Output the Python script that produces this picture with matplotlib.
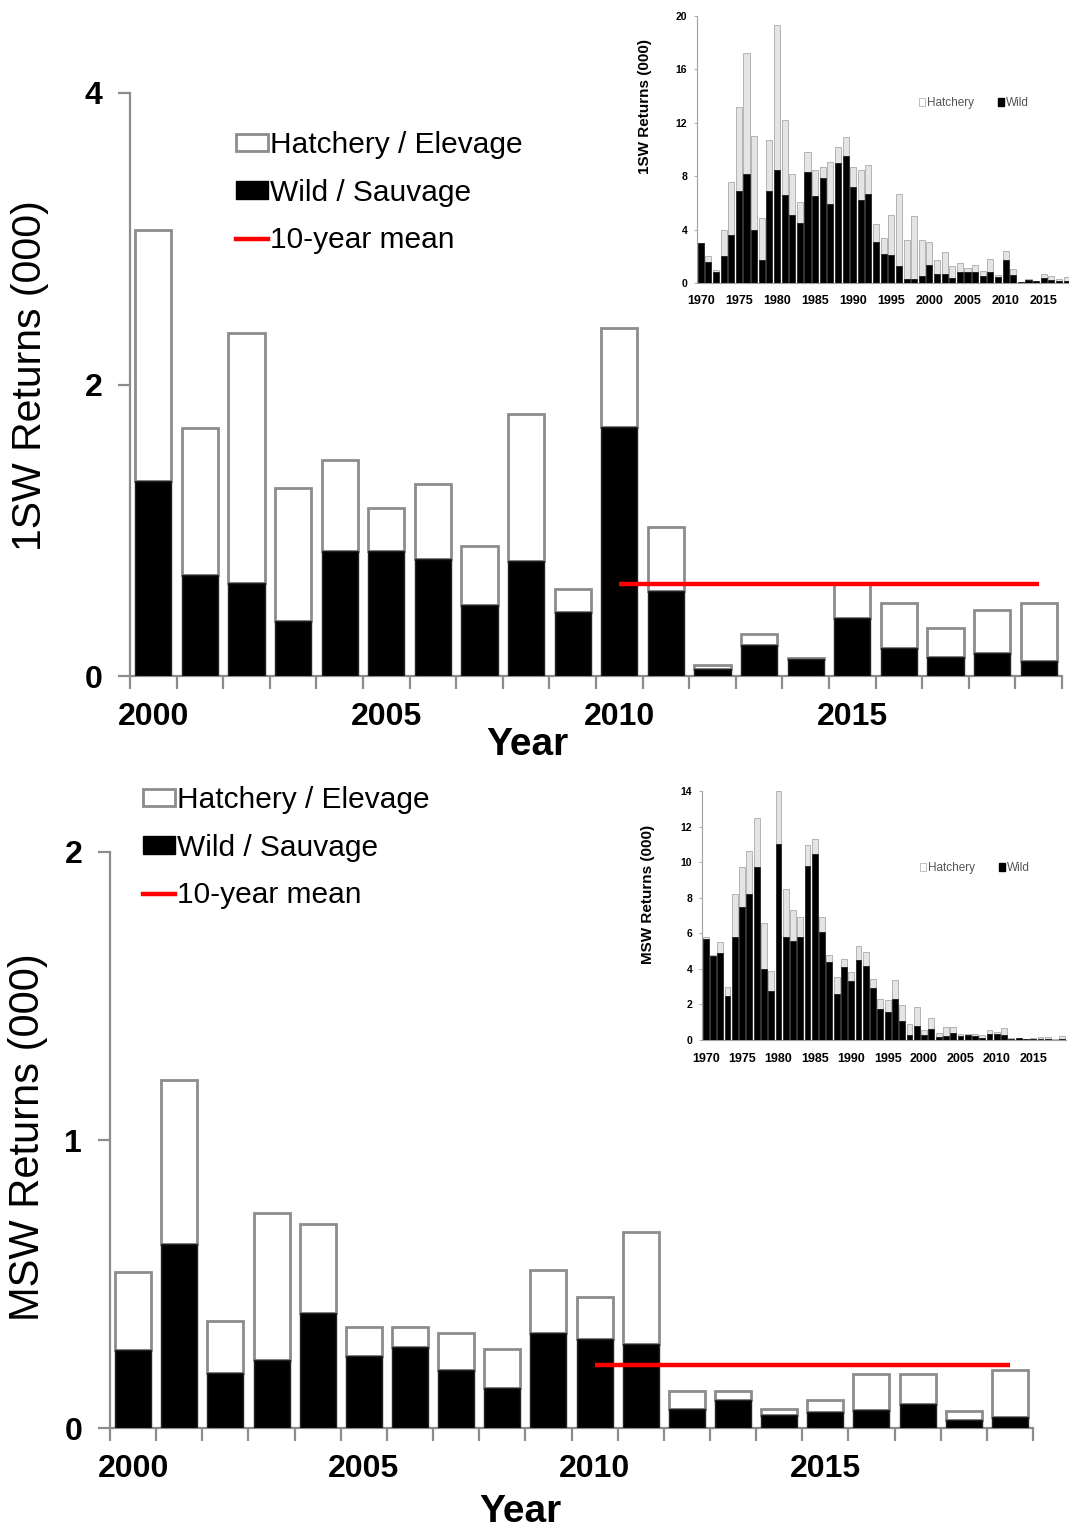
import matplotlib
matplotlib.use("Agg")
import matplotlib.pyplot as plt
from matplotlib.patches import Patch
from matplotlib.lines import Line2D
import numpy as np

plt.rcParams["font.family"] = ["Liberation Sans", "DejaVu Sans"]

# ---- Recent returns (thousands), 2000-2019 ----
years_recent = list(range(2000, 2020))

sw1_wild = [1.34, 0.69, 0.64, 0.38, 0.86, 0.86, 0.80, 0.49, 0.79, 0.44,
            1.71, 0.58, 0.05, 0.21, 0.12, 0.40, 0.19, 0.13, 0.16, 0.10]
sw1_hatchery = [1.72, 1.01, 1.71, 0.91, 0.62, 0.29, 0.52, 0.40, 1.01, 0.16,
                0.68, 0.44, 0.025, 0.08, 0.005, 0.24, 0.31, 0.20, 0.29, 0.40]

msw_wild = [0.27, 0.64, 0.19, 0.235, 0.40, 0.25, 0.28, 0.20, 0.14, 0.33,
            0.31, 0.29, 0.067, 0.096, 0.044, 0.056, 0.064, 0.082, 0.027, 0.038]
msw_hatchery = [0.27, 0.57, 0.18, 0.51, 0.31, 0.10, 0.07, 0.13, 0.135, 0.22,
                0.146, 0.39, 0.063, 0.034, 0.023, 0.04, 0.122, 0.104, 0.032, 0.162]

# ---- Historical returns (thousands), 1970-1999 ----
years_hist = list(range(1970, 2000))

sw1_wild_hist = [3.0, 1.6, 0.85, 2.0, 3.6, 6.9, 8.2, 4.0, 1.75, 6.9,
                 8.5, 6.6, 5.1, 4.5, 8.35, 6.5, 7.85, 5.9, 9.0, 9.5,
                 7.2, 6.2, 6.7, 3.1, 2.2, 2.1, 1.25, 0.3, 0.3, 0.5]
sw1_hatchery_hist = [0.0, 0.4, 0.1, 2.0, 4.0, 6.3, 9.0, 7.0, 3.15, 3.8,
                     10.8, 5.6, 3.1, 1.6, 1.45, 2.0, 0.85, 3.2, 1.2, 1.4,
                     1.5, 2.3, 2.15, 1.3, 1.2, 3.0, 5.45, 2.9, 4.7, 2.7]

msw_wild_hist = [5.7, 4.7, 4.9, 2.5, 5.8, 7.5, 8.2, 9.7, 4.0, 2.75,
                 11.0, 5.8, 5.55, 5.8, 9.8, 10.45, 6.1, 4.4, 2.6, 4.1,
                 3.3, 4.5, 4.15, 2.95, 1.75, 1.6, 2.3, 1.05, 0.3, 0.8]
msw_hatchery_hist = [0.1, 0.1, 0.6, 0.5, 2.4, 2.2, 2.4, 2.8, 2.6, 1.15,
                     3.0, 2.7, 1.75, 1.1, 1.15, 0.85, 0.8, 0.4, 0.95, 0.45,
                     0.5, 0.8, 0.8, 0.5, 0.55, 0.65, 1.05, 0.9, 0.6, 1.05]

year_ticks_main = [2000, 2005, 2010, 2015]
year_ticks_inset = [1970, 1975, 1980, 1985, 1990, 1995, 2000, 2005, 2010, 2015]

legend_labels = ["Hatchery / Elevage", "Wild / Sauvage", "10-year mean"]
inset_legend_labels = ["Hatchery", "Wild"]

W, H = 1069, 1531
fig = plt.figure(figsize=(W / 100, H / 100), dpi=100)

SPINE = "#8c8c8c"


def fx(px):
    return px / W


def fy(py):
    return 1 - py / H


def main_panel(rect, wild, hatch, ymax, yticks, ylabel, ylabel_xy, ylabel_size,
               year_xy, leg_xy):
    ax = fig.add_axes(rect)
    ax.set_facecolor("none")
    wild = np.array(wild)
    hatch = np.array(hatch)
    total = wild + hatch
    x = np.arange(len(years_recent))
    ax.bar(x, hatch, bottom=wild, width=0.78, color="white",
           edgecolor=SPINE, linewidth=2.0, zorder=2)
    ax.bar(x, wild, width=0.78, color="black", edgecolor="#222222",
           linewidth=1.0, zorder=3)
    # mean of the last ten seasons
    mean10 = total[-10:].mean()
    ax.plot([x[-10], x[-1]], [mean10, mean10], color="#ff0000", lw=3.2,
            solid_capstyle="butt", zorder=4)

    ax.set_xlim(-0.5, len(x) - 0.5)
    ax.set_ylim(0, ymax)
    for s in ["top", "right"]:
        ax.spines[s].set_visible(False)
    for s in ["left", "bottom"]:
        ax.spines[s].set_color(SPINE)
        ax.spines[s].set_linewidth(1.6)

    ax.set_xticks([years_recent.index(y) for y in year_ticks_main])
    ax.set_xticklabels([str(y) for y in year_ticks_main],
                       fontsize=23, fontweight="bold")
    ax.set_xticks(np.arange(-0.5, len(x)), minor=True)
    ax.tick_params(axis="x", which="major", length=0, pad=19)
    ax.tick_params(axis="x", which="minor", length=9, width=1.6,
                   color=SPINE, direction="out")
    ax.set_yticks(yticks)
    ax.set_yticklabels([str(v) for v in yticks], fontsize=23, fontweight="bold")
    ax.tick_params(axis="y", length=9, width=1.6, color=SPINE, pad=11)

    fig.text(fx(ylabel_xy[0]), fy(ylabel_xy[1]), ylabel, rotation=90,
             ha="center", va="center", fontsize=ylabel_size)
    fig.text(fx(year_xy[0]), fy(year_xy[1]), "Year", ha="center",
             va="center", fontsize=28, fontweight="bold")

    handles = [Patch(facecolor="white", edgecolor=SPINE, linewidth=2.0),
               Patch(facecolor="black", edgecolor="black"),
               Line2D([0], [0], color="#ff0000", lw=3.2)]
    fig.legend(handles, legend_labels, loc="upper left",
               bbox_to_anchor=(fx(leg_xy[0]), fy(leg_xy[1])),
               frameon=False, fontsize=21.5, handlelength=1.07,
               handleheight=0.52, handletextpad=0.08, labelspacing=0.66,
               borderpad=0, borderaxespad=0)
    return ax


def inset_panel(rect, wild_hist, hatch_hist, wild, hatch, ymax, ystep,
                ylabel, ylabel_xy, leg_xy):
    ax = fig.add_axes(rect)
    w = np.array(list(wild_hist) + list(wild))
    h = np.array(list(hatch_hist) + list(hatch))
    yrs = years_hist + years_recent
    x = np.arange(len(yrs))
    ax.bar(x, h, bottom=w, width=0.8, color="#e4e4e4", edgecolor="#b4b4b4",
           linewidth=0.7, zorder=2)
    ax.bar(x, w, width=0.8, color="black", edgecolor="#111111",
           linewidth=0.5, zorder=3)
    ax.set_xlim(-0.5, len(x) - 0.5)
    ax.set_ylim(0, ymax)
    for s in ["top", "right"]:
        ax.spines[s].set_visible(False)
    for s in ["left", "bottom"]:
        ax.spines[s].set_color("#a0a0a0")
        ax.spines[s].set_linewidth(0.8)
    ax.set_xticks([yrs.index(y) for y in year_ticks_inset])
    ax.set_xticklabels([str(y) for y in year_ticks_inset], fontsize=9,
                       fontweight="bold")
    ax.tick_params(axis="x", length=0, pad=9)
    yt = np.arange(0, ymax + 0.01, ystep)
    ax.set_yticks(yt)
    ax.set_yticklabels([f"{v:g}" for v in yt], fontsize=7.5, fontweight="bold")
    ax.tick_params(axis="y", length=2, width=0.6, color="#a0a0a0", pad=5)
    fig.text(fx(ylabel_xy[0]), fy(ylabel_xy[1]), ylabel, rotation=90,
             ha="center", va="center", fontsize=11, fontweight="bold")
    handles = [Patch(facecolor="white", edgecolor="#b4b4b4", linewidth=0.6),
               Patch(facecolor="black", edgecolor="black")]
    fig.legend(handles, inset_legend_labels, loc="center left",
               bbox_to_anchor=(fx(leg_xy[0]), fy(leg_xy[1])), ncol=2,
               frameon=False, fontsize=8.5, handlelength=0.55, handleheight=0.6,
               handletextpad=0.15, columnspacing=2.0, borderpad=0,
               borderaxespad=0, labelcolor="#555555")
    return ax


main_panel([fx(130), fy(676), fx(1062) - fx(130), fy(93) - fy(676)],
           sw1_wild, sw1_hatchery, 4, [0, 2, 4], "1SW Returns (000)",
           (30, 376), 29.5, (527, 745), (236, 131))

main_panel([fx(110), fy(1428), fx(1033) - fx(110), fy(852) - fy(1428)],
           msw_wild, msw_hatchery, 2, [0, 1, 2], "MSW Returns (000)",
           (28, 1137), 30, (520, 1512), (143, 786))

inset_panel([fx(697), fy(283), fx(1078) - fx(697), fy(16) - fy(283)],
            sw1_wild_hist, sw1_hatchery_hist, sw1_wild, sw1_hatchery,
            20, 4, "1SW Returns (000)", (645, 107), (919, 103))

inset_panel([fx(702), fy(1040), fx(1066) - fx(702), fy(791) - fy(1040)],
            msw_wild_hist, msw_hatchery_hist, msw_wild, msw_hatchery,
            14, 2, "MSW Returns (000)", (648, 894), (920, 868))

fig.savefig("out.png", dpi=100)
